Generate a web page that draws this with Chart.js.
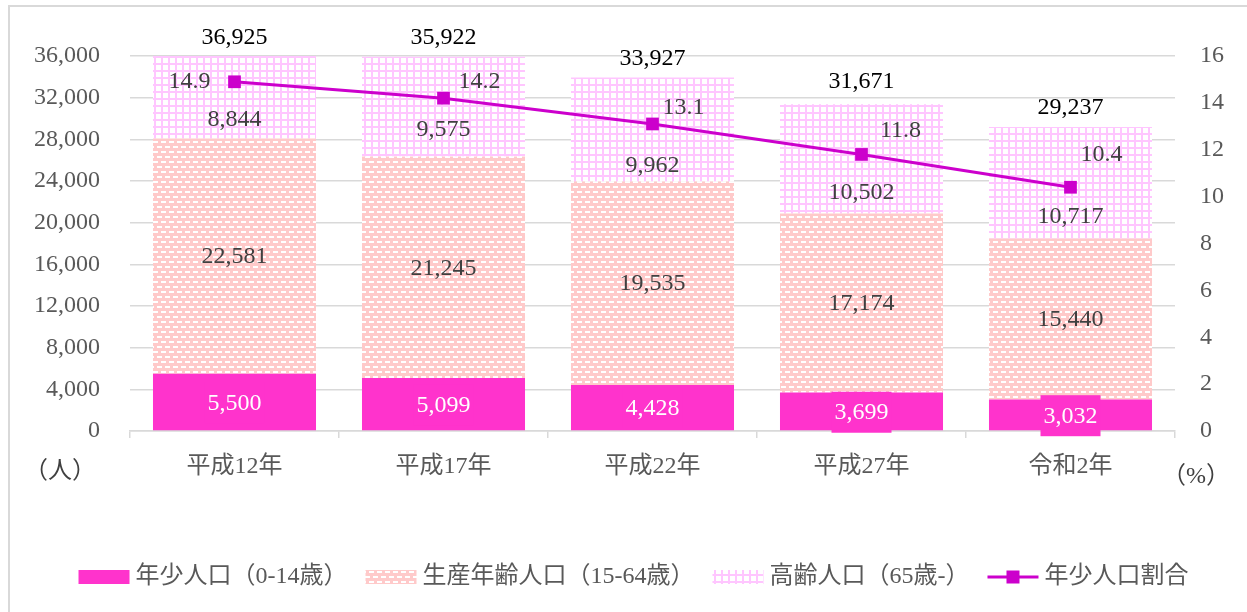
<!DOCTYPE html>
<html lang="ja">
<head>
<meta charset="utf-8">
<script src="https://cdn.jsdelivr.net/npm/chart.js@4"></script>
<style>
  body { margin: 0; background: #fff; }
  #wrap { position: relative; width: 1247px; height: 612px; overflow: hidden; }
  #frame { position: absolute; left: 8px; top: 5px; width: 1260px; height: 620px; border: 2px solid #d9d9d9; box-sizing: border-box; }
  #chart { position: absolute; left: 0; top: 0; }
</style>
</head>
<body>
<div id="wrap">
  <div id="frame"></div>
  <canvas id="chart" width="1247" height="612"></canvas>
</div>
<script>
const categories = ['平成12年', '平成17年', '平成22年', '平成27年', '令和2年'];
const youngPop = [5500, 5099, 4428, 3699, 3032];
const workingPop = [22581, 21245, 19535, 17174, 15440];
const elderlyPop = [8844, 9575, 9962, 10502, 10717];
const totalPop = [36925, 35922, 33927, 31671, 29237];
const youngRatio = [14.9, 14.2, 13.1, 11.8, 10.4];
const seriesNames = ['年少人口（0-14歳）', '生産年齢人口（15-64歳）', '高齢人口（65歳-）', '年少人口割合'];

// hand placed label nudges (px), like the original
const ratioLabelShift = [[-45, 0], [36, -16], [31, -16], [39, -24], [31, -33]];
const elderlyLabelLift = [19, 27, 16, 21, 22];

const FONT = "'Liberation Serif', 'Noto Sans CJK JP', serif";
const PINK = '#ff33cc';
const LINE = '#cc00cc';

function dashPattern() {
  const c = document.createElement('canvas');
  c.width = 8; c.height = 10;
  const g = c.getContext('2d');
  g.fillStyle = '#ffcaca';
  g.fillRect(0, 0, 8, 10);
  g.fillStyle = '#ffffff';
  g.fillRect(1, 1, 5, 2);
  g.fillRect(5, 6, 5, 2);
  g.fillRect(-3, 6, 5, 2);
  return g.createPattern(c, 'repeat');
}

function gridPattern() {
  const c = document.createElement('canvas');
  c.width = 7; c.height = 7;
  const g = c.getContext('2d');
  g.fillStyle = '#ffffff';
  g.fillRect(0, 0, 7, 7);
  g.fillStyle = '#ffc6ff';
  g.fillRect(0, 0, 7, 2);
  g.fillRect(0, 0, 2, 7);
  return g.createPattern(c, 'repeat');
}

const fmt = v => v.toLocaleString('en-US');

const labelPlugin = {
  id: 'labels',
  afterDatasetsDraw(chart) {
    const ctx = chart.ctx;
    const x = chart.scales.x, y = chart.scales.y, y1 = chart.scales.y1;
    ctx.save();
    ctx.font = '24px ' + FONT;
    ctx.textAlign = 'center';
    ctx.textBaseline = 'middle';
    categories.forEach((c, i) => {
      const cx = x.getPixelForValue(i);
      const y0 = y.getPixelForValue(0);
      const yA = y.getPixelForValue(youngPop[i]);
      const yB = y.getPixelForValue(youngPop[i] + workingPop[i]);
      const yT = y.getPixelForValue(totalPop[i]);

      const t = fmt(youngPop[i]);
      const w = ctx.measureText(t).width + 6;
      const my = (y0 + yA) / 2;
      ctx.fillStyle = PINK;
      ctx.fillRect(cx - w / 2, my - 20, w, 41);
      ctx.fillStyle = '#ffffff';
      ctx.fillText(t, cx, my + 1);

      ctx.fillStyle = '#404040';
      ctx.fillText(fmt(workingPop[i]), cx, (yA + yB) / 2 + 1);
      ctx.fillText(fmt(elderlyPop[i]), cx, yB - elderlyLabelLift[i]);

      ctx.fillStyle = '#000000';
      ctx.fillText(fmt(totalPop[i]), cx, Math.max(yT - 19, 38));

      const py = y1.getPixelForValue(youngRatio[i]);
      ctx.fillStyle = '#404040';
      ctx.fillText(youngRatio[i].toFixed(1), cx + ratioLabelShift[i][0], py + ratioLabelShift[i][1]);
    });

    // unit labels
    ctx.fillStyle = '#404040';
    ctx.font = '24px ' + FONT;
    ctx.fillText('（人）', chart.chartArea.left - 70, chart.chartArea.bottom + 41);
    ctx.fillText('（%）', chart.chartArea.right + 21, chart.chartArea.bottom + 46);
    ctx.restore();
  }
};

const legendPlugin = {
  id: 'customLegend',
  afterDraw(chart) {
    const ctx = chart.ctx;
    const ds = chart.data.datasets;
    const boxW = 51, gapText = 6, gapItem = 18, cy = 577;
    ctx.save();
    ctx.font = '24px ' + FONT;
    ctx.textBaseline = 'middle';
    ctx.textAlign = 'left';
    // legend order: bars first, then line
    const items = [ds[1], ds[2], ds[3], ds[0]];
    let total = 0;
    items.forEach((d, k) => {
      total += boxW + gapText + ctx.measureText(d.label).width + (k < items.length - 1 ? gapItem : 0);
    });
    let lx = (chart.width - total) / 2 + 10;
    items.forEach(d => {
      if (d.type === 'line') {
        ctx.strokeStyle = LINE;
        ctx.lineWidth = 3;
        ctx.beginPath();
        ctx.moveTo(lx, cy);
        ctx.lineTo(lx + boxW, cy);
        ctx.stroke();
        ctx.fillStyle = LINE;
        ctx.fillRect(lx + boxW / 2 - 6.5, cy - 6.5, 13, 13);
      } else {
        ctx.fillStyle = d.backgroundColor;
        ctx.fillRect(lx, cy - 7, boxW, 14);
      }
      lx += boxW + gapText;
      ctx.fillStyle = '#595959';
      ctx.fillText(d.label, lx, cy);
      lx += ctx.measureText(d.label).width + gapItem;
    });
    ctx.restore();
  }
};

const tickFont = { family: FONT, size: 24 };

new Chart(document.getElementById('chart'), {
  type: 'bar',
  data: {
    labels: categories,
    datasets: [
      {
        type: 'line',
        label: seriesNames[3],
        data: youngRatio,
        yAxisID: 'y1',
        borderColor: LINE,
        backgroundColor: LINE,
        borderWidth: 3,
        pointStyle: 'rect',
        pointRadius: 9,
        pointBorderWidth: 0,
        pointBackgroundColor: LINE,
        tension: 0,
        order: 0
      },
      {
        label: seriesNames[0],
        data: youngPop,
        backgroundColor: PINK,
        stack: 'pop',
        order: 1
      },
      {
        label: seriesNames[1],
        data: workingPop,
        backgroundColor: dashPattern(),
        stack: 'pop',
        order: 1
      },
      {
        label: seriesNames[2],
        data: elderlyPop,
        backgroundColor: gridPattern(),
        stack: 'pop',
        order: 1
      }
    ]
  },
  options: {
    responsive: false,
    animation: false,
    events: [],
    layout: { padding: { left: 10, top: 56, right: 0, bottom: 0 } },
    datasets: { bar: { categoryPercentage: 1, barPercentage: 0.78 } },
    plugins: { legend: { display: false }, tooltip: { enabled: false } },
    scales: {
      x: {
        stacked: true,
        grid: { drawOnChartArea: false, drawTicks: true, tickLength: 7, color: '#d9d9d9', lineWidth: 1.5 },
        border: { color: '#d9d9d9', width: 1.5 },
        ticks: { color: '#595959', font: tickFont, padding: 14 },
        afterFit(s) { s.height = 181; }
      },
      y: {
        stacked: true,
        min: 0,
        max: 36000,
        ticks: { stepSize: 4000, color: '#595959', font: tickFont, padding: 30, callback: v => fmt(v) },
        grid: { color: '#d9d9d9', lineWidth: 1.5, drawTicks: false },
        border: { display: false },
        afterFit(s) { s.width = 120; }
      },
      y1: {
        position: 'right',
        min: 0,
        max: 16,
        ticks: { stepSize: 2, color: '#595959', font: tickFont, padding: 25 },
        grid: { display: false, drawTicks: false },
        border: { display: false },
        afterFit(s) { s.width = 72; }
      }
    }
  },
  plugins: [labelPlugin, legendPlugin]
});
</script>
</body>
</html>
